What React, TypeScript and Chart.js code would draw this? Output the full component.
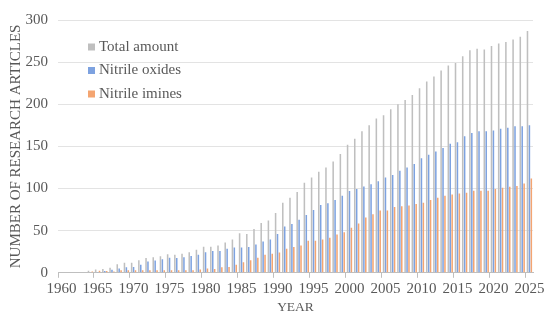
import React, { useEffect, useRef } from "react";
import { Chart, registerables } from "chart.js";

Chart.register(...registerables);

const years: string[] = [];
for (let y = 1960; y <= 2025; y++) years.push(String(y));

// 1960 .. 2025
const totalAmount = [
  0, 0, 0, 0, 2.5, 4, 4.5, 6, 10, 12,
  12, 15, 17.5, 18.5, 19.5, 22, 21.5, 22.5, 24.5, 27.5,
  31, 31, 32.5, 36, 39.5, 47, 46, 52, 59, 62,
  71, 83, 89, 96, 107, 113, 120, 125, 132, 141,
  152, 159, 168, 175, 183, 187, 194, 200, 205, 211,
  219, 227, 233, 240, 246, 249, 257, 264, 266, 265,
  269, 272, 274, 277, 280, 287,
];

const nitrileOxides = [
  0, 0, 0, 0, 0, 1, 2, 3.5, 5, 6.5,
  7, 9.5, 13.5, 14.5, 16, 18, 17.5, 18.5, 20, 21.5,
  24.5, 26, 26, 28.5, 30, 30, 30.5, 33.5, 37, 39.5,
  46, 55, 58, 63, 68.5, 74.5, 80.5, 82.5, 86.5, 91.5,
  97, 99.5, 102.5, 105, 108.5, 113, 116, 121, 125, 129,
  136, 140, 144, 148, 153, 155, 162, 166, 168, 168,
  169, 171, 172, 174, 174, 175,
];

const nitrileImines = [
  0, 0, 0, 0, 1.5, 2.5, 2, 1.5, 3, 3,
  3, 3, 3, 3, 3, 3, 3, 3, 3, 4,
  5, 4.5, 6.5, 7, 9.5, 12.5, 15, 18, 21.5, 22.5,
  24, 28.5, 30.5, 32.5, 38, 38, 39.5, 41.5, 45.5, 48,
  53.5, 58.5, 65.5, 69.5, 74, 74, 78, 79, 80, 81.5,
  83, 86.5, 89, 91.5, 93, 94, 95, 97.5, 97.5, 97.5,
  99.5, 101, 102, 103, 106, 112,
];

const seriesLabels = ["Total amount", "Nitrile oxides", "Nitrile imines"];
const seriesColors = ["#bfbfbf", "#7da2e0", "#f4a571"];
const yTicks = [0, 50, 100, 150, 200, 250, 300];

const FONT = '"Liberation Serif", "Times New Roman", serif';
const TEXT = "#595959";

const legendPlugin = {
  id: "insideLegend",
  afterDraw(chart: any) {
    const { ctx, chartArea } = chart;
    ctx.save();
    ctx.font = `15px ${FONT}`;
    ctx.textBaseline = "middle";
    chart.data.datasets.forEach((ds: any, i: number) => {
      const x = chartArea.left + 30;
      const y = chartArea.top + 27 + i * 23.5;
      ctx.fillStyle = ds.backgroundColor;
      ctx.fillRect(x, y - 3.5, 7, 7);
      ctx.fillStyle = TEXT;
      ctx.fillText(ds.label, x + 11, y);
    });
    ctx.restore();
  },
};

export default function App() {
  const ref = useRef<HTMLCanvasElement>(null);
  useEffect(() => {
    if (!ref.current) return;
    const data = [totalAmount, nitrileOxides, nitrileImines];
    const chart = new Chart(ref.current, {
      type: "bar",
      data: {
        labels: years,
        datasets: data.map((d, i) => ({
          label: seriesLabels[i],
          data: d,
          backgroundColor: seriesColors[i],
          categoryPercentage: 0.8,
          barPercentage: 0.8,
        })),
      },
      options: {
        animation: false,
        responsive: true,
        maintainAspectRatio: false,
        layout: { padding: { top: 20, right: 17, left: 7, bottom: 5 } },
        plugins: {
          legend: { display: false },
          tooltip: { enabled: false },
        },
        scales: {
          x: {
            grid: {
              offset: true,
              drawOnChartArea: false,
              tickLength: 5,
              color: (ctx: any) => (ctx.index % 5 === 0 ? "#bfbfbf" : "rgba(0,0,0,0)"),
            },
            border: { display: true, color: "#bfbfbf" },
            ticks: {
              autoSkip: false,
              maxRotation: 0,
              minRotation: 0,
              color: TEXT,
              font: { family: FONT, size: 15 },
              padding: 2,
              callback: (_v: any, idx: number) => (idx % 5 === 0 ? years[idx] : ""),
            },
            title: {
              display: true,
              text: "YEAR",
              color: TEXT,
              font: { family: FONT, size: 13.5 },
              padding: { top: 0, bottom: 0 },
            },
          },
          y: {
            min: 0,
            max: 300,
            afterBuildTicks: (axis: any) => {
              axis.ticks = yTicks.map((v) => ({ value: v }));
            },
            afterFit: (axis: any) => {
              axis.width = 51;
            },
            grid: { color: "#e3e3e3", drawTicks: false },
            border: { display: false },
            ticks: {
              color: TEXT,
              font: { family: FONT, size: 15 },
              padding: 10,
            },
            title: {
              display: true,
              text: "NUMBER OF RESEARCH ARTICLES",
              color: TEXT,
              font: { family: FONT, size: 15 },
              padding: { top: 0, bottom: 0 },
            },
          },
        },
      },
      plugins: [legendPlugin],
    });
    return () => chart.destroy();
  }, []);

  return (
    <div style={{ position: "fixed", left: 0, top: 0, width: 550, height: 321, background: "#fff" }}>
      <canvas ref={ref} />
    </div>
  );
}
